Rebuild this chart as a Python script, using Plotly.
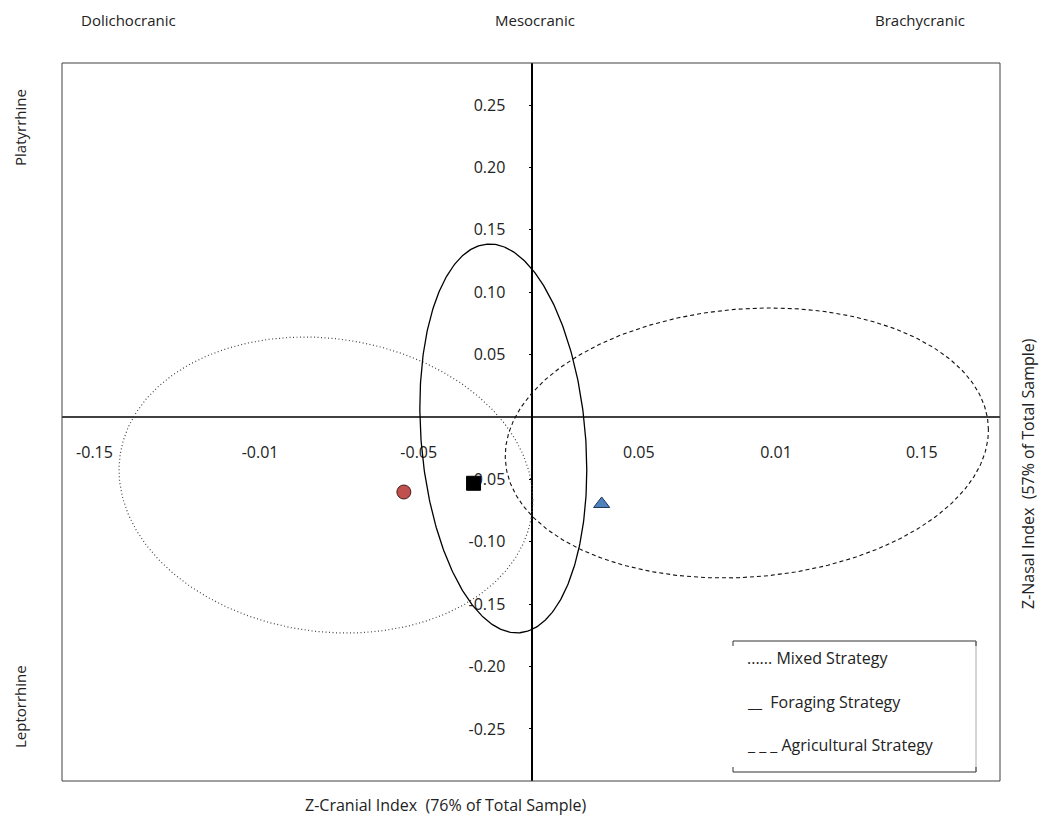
import numpy as np
import plotly.graph_objects as go

# ---- data ----
# x-axis tick labels as printed (labels are placed at these positions)
x_tick_vals = [-0.1589, -0.0988, -0.0412, 0.0387, 0.0885, 0.1414]
x_tick_text = ["-0.15", "-0.01", "-0.05", "0.05", "0.01", "0.15"]
y_tick_vals = [0.25, 0.20, 0.15, 0.10, 0.05, -0.05, -0.10, -0.15, -0.20, -0.25]
y_tick_text = ["0.25", "0.20", "0.15", "0.10", "0.05", "-0.05", "-0.10", "-0.15", "-0.20", "-0.25"]

strategies = ["Mixed Strategy", "Foraging Strategy", "Agricultural Strategy"]
centroid_x = [-0.0466, -0.0213, 0.0252]
centroid_y = [-0.0601, -0.0531, -0.0697]

# confidence ellipses: centre, half-width, half-height, y-offset at rightmost point
ell_cx = [-0.0749, -0.0105, 0.0779]
ell_cy = [-0.0545, -0.0172, -0.0208]
ell_half_w = [0.0751, 0.0303, 0.0877]
ell_half_h = [0.1186, 0.1558, 0.1082]
ell_tilt = [-0.0120, -0.0252, 0.0104]

x_range = [-0.1707, 0.1698]
y_range = [-0.2917, 0.2837]

# ---- styles ----
FONT = "Open Sans"
ell_dash = ["1px,2.5px", "solid", "4px,3px"]
ell_width = [1.2, 1.3, 1.1]
ell_color = ["#444444", "#000000", "#111111"]
marker_symbols = ["circle", "square", "triangle-up"]
marker_colors = ["#C0504D", "#000000", "#4F81BD"]
marker_lines = ["#4a1c1c", "#000000", "#1f3556"]

fig = go.Figure()

t = np.linspace(0, 2 * np.pi, 400)
for i in range(3):
    c = np.sqrt(ell_half_h[i] ** 2 - ell_tilt[i] ** 2)
    ex = ell_cx[i] + ell_half_w[i] * np.cos(t)
    ey = ell_cy[i] + ell_tilt[i] * np.cos(t) + c * np.sin(t)
    fig.add_trace(go.Scatter(x=ex, y=ey, mode="lines",
                             line=dict(color=ell_color[i], width=ell_width[i], dash=ell_dash[i]),
                             hoverinfo="skip", showlegend=False, name=strategies[i]))

for i in range(3):
    fig.add_trace(go.Scatter(x=[centroid_x[i]], y=[centroid_y[i]], mode="markers",
                             marker=dict(symbol=marker_symbols[i], size=14, color=marker_colors[i],
                                         line=dict(color=marker_lines[i], width=1)),
                             showlegend=False, name=strategies[i]))

# page body has an 8px margin on every side; keep the figure inside the viewport
OFF = 8
W, H = 1049 - OFF, 823 - 2 * OFF
L, T = 62 - OFF, 63 - OFF
R = W - (1000 - OFF)
B = H - (781 - OFF)
pw, ph = W - L - R, H - T - B

def px(x):
    return (x - OFF - L) / pw

def py(y):
    return (H - B - (y - OFF)) / ph

TXT = "#222222"
fig.update_layout(
    width=W, height=H,
    margin=dict(l=L, r=R, t=T, b=B, pad=0, autoexpand=False),
    plot_bgcolor="white", paper_bgcolor="white",
    font=dict(family=FONT, size=16, color=TXT),
    showlegend=False,
    xaxis=dict(range=x_range, anchor="free", position=0.507, showline=True,
               linecolor="#404040", linewidth=2, ticks="", tickvals=x_tick_vals,
               ticktext=x_tick_text, ticklabelstandoff=21, showgrid=False, zeroline=False,
               layer="below traces", tickfont=dict(size=16, family=FONT, color=TXT)),
    yaxis=dict(range=y_range, anchor="free", position=0.5014, showline=True,
               linecolor="#000000", linewidth=1.5, ticks="outside", ticklen=3,
               tickcolor="#000000", tickvals=y_tick_vals, ticktext=y_tick_text,
               ticklabelstandoff=20, showgrid=False, zeroline=False,
               layer="below traces", tickfont=dict(size=16, family=FONT, color=TXT)),
)

shapes = [dict(type="rect", xref="paper", yref="paper", x0=0, y0=0, x1=1, y1=1,
               line=dict(color="#404040", width=1))]
# legend box
bx0, bx1, by0, by1 = px(733), px(976), py(772), py(641)
tick = 5 / ph
dark = dict(color="#333333", width=1)
shapes += [
    dict(type="line", xref="paper", yref="paper", x0=bx0, x1=bx1, y0=by1, y1=by1, line=dark),
    dict(type="line", xref="paper", yref="paper", x0=bx0, x1=bx1, y0=by0, y1=by0, line=dark),
    dict(type="line", xref="paper", yref="paper", x0=bx1, x1=bx1, y0=by0, y1=by1, line=dict(color="#aaaaaa", width=1)),
    dict(type="line", xref="paper", yref="paper", x0=bx0, x1=bx0, y0=by1, y1=by1 - tick, line=dark),
    dict(type="line", xref="paper", yref="paper", x0=bx0, x1=bx0, y0=by0, y1=by0 + tick, line=dark),
    dict(type="line", xref="paper", yref="paper", x0=bx1, x1=bx1, y0=by1, y1=by1 - tick, line=dark),
    dict(type="line", xref="paper", yref="paper", x0=bx1, x1=bx1, y0=by0, y1=by0 + tick, line=dark),
]
fig.update_layout(shapes=shapes)

legend_text = ["...... Mixed Strategy", "__  Foraging Strategy", "_ _ _ Agricultural Strategy"]
legend_y = [658, 702, 745]
ann = []
for txt, yy in zip(legend_text, legend_y):
    ann.append(dict(text=txt, xref="paper", yref="paper", x=px(745), y=py(yy), xanchor="left",
                    yanchor="middle", showarrow=False, font=dict(size=16, color=TXT)))

top_labels = ["Dolichocranic", "Mesocranic", "Brachycranic"]
top_x = [128, 535, 920]
for txt, xx in zip(top_labels, top_x):
    ann.append(dict(text=txt, xref="paper", yref="paper", x=px(xx), y=py(20), xanchor="center",
                    yanchor="middle", showarrow=False, font=dict(size=15, color=TXT)))

side_labels = ["Platyrrhine", "Leptorrhine"]
side_y = [128, 707]
for txt, yy in zip(side_labels, side_y):
    ann.append(dict(text=txt, xref="paper", yref="paper", x=px(20), y=py(yy), xanchor="center",
                    yanchor="middle", showarrow=False, textangle=-90, font=dict(size=15, color=TXT)))

ann.append(dict(text="Z-Cranial Index  (76% of Total Sample)", xref="paper", yref="paper",
                x=px(446), y=py(805), xanchor="center", yanchor="middle", showarrow=False,
                font=dict(size=16, color=TXT)))
ann.append(dict(text="Z-Nasal Index  (57% of Total Sample)", xref="paper", yref="paper",
                x=px(1028), y=py(474), xanchor="center", yanchor="middle", showarrow=False,
                textangle=-90, font=dict(size=16, color=TXT)))
fig.update_layout(annotations=ann)

fig.write_html("out.html")
